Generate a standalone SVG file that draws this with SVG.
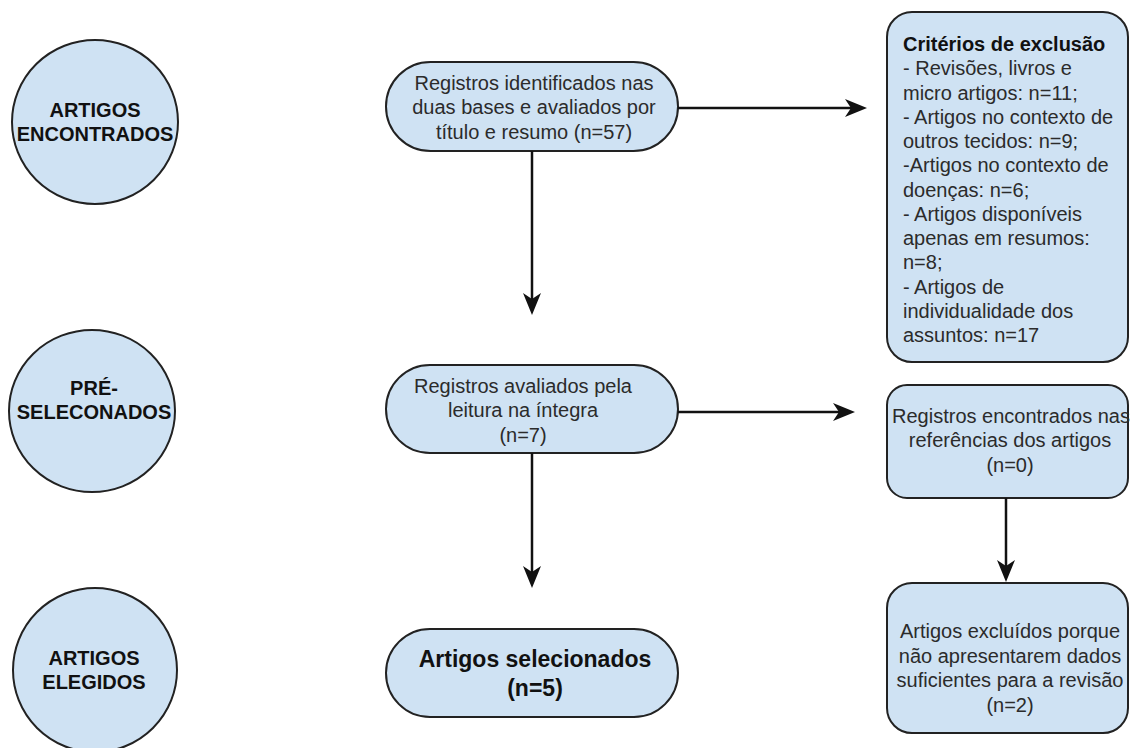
<svg xmlns="http://www.w3.org/2000/svg" width="1137" height="748" viewBox="0 0 1137 748">
  <defs>
    <style>
      .shape { fill: #cfe2f3; stroke: #222; stroke-width: 2; }
      .lbl { font-family: "Liberation Sans", Arial, sans-serif; font-size: 20px; fill: #2b2b2b; }
      .bold { font-family: "Liberation Sans", Arial, sans-serif; font-size: 20px; font-weight: bold; fill: #111; }
      .big { font-family: "Liberation Sans", Arial, sans-serif; font-size: 23px; font-weight: bold; fill: #111; }
      .mid { text-anchor: middle; }
      .edge { fill: none; stroke: #111; stroke-width: 2.5; marker-end: url(#arrow); }
    </style>
    <marker id="arrow" markerUnits="userSpaceOnUse" markerWidth="24" markerHeight="20" refX="12" refY="9" orient="auto">
      <path d="M0,0 L22,9 L0,18 L6,9 Z" fill="#111"/>
    </marker>
  </defs>
  <rect width="1137" height="748" fill="#ffffff"/>

  <g id="stage-encontrados">
    <ellipse class="shape" cx="95" cy="122" rx="83" ry="82"/>
    <text class="bold mid" x="95" y="117">ARTIGOS</text>
    <text class="bold mid" x="95" y="141">ENCONTRADOS</text>
  </g>
  <g id="stage-preselecionados">
    <ellipse class="shape" cx="92" cy="411" rx="83" ry="81"/>
    <text class="bold mid" x="94" y="395">PRÉ-</text>
    <text class="bold mid" x="94" y="419">SELECONADOS</text>
  </g>
  <g id="stage-elegidos">
    <ellipse class="shape" cx="95" cy="670" rx="82" ry="82"/>
    <text class="bold mid" x="94" y="665">ARTIGOS</text>
    <text class="bold mid" x="94" y="689">ELEGIDOS</text>
  </g>

  <g id="node-identificados">
    <rect class="shape" x="386" y="62" width="292" height="89" rx="44.5" ry="44.5"/>
    <text class="lbl mid" x="534" y="89.5">Registros identificados nas</text>
    <text class="lbl mid" x="534" y="114">duas bases e avaliados por</text>
    <text class="lbl mid" x="534" y="138.5">título e resumo (n=57)</text>
  </g>
  <g id="node-avaliados">
    <rect class="shape" x="386" y="365" width="292" height="88" rx="44" ry="44"/>
    <text class="lbl mid" x="523" y="393">Registros avaliados pela</text>
    <text class="lbl mid" x="523" y="417">leitura na íntegra</text>
    <text class="lbl mid" x="523" y="441.5">(n=7)</text>
  </g>
  <g id="node-selecionados">
    <rect class="shape" x="386" y="629" width="292" height="88" rx="44" ry="44"/>
    <text class="big mid" x="535" y="667">Artigos selecionados</text>
    <text class="big mid" x="535" y="696">(n=5)</text>
  </g>

  <g id="node-criterios">
    <rect class="shape" x="887" y="12" width="241" height="350" rx="25" ry="25"/>
    <text class="bold" x="903" y="51">Critérios de exclusão</text>
    <text class="lbl" x="903" y="75.3">- Revisões, livros e</text>
    <text class="lbl" x="903" y="99.5">micro artigos: n=11;</text>
    <text class="lbl" x="903" y="123.8">- Artigos no contexto de</text>
    <text class="lbl" x="903" y="148">outros tecidos: n=9;</text>
    <text class="lbl" x="903" y="172.3">-Artigos no contexto de</text>
    <text class="lbl" x="903" y="196.5">doenças: n=6;</text>
    <text class="lbl" x="903" y="220.8">- Artigos disponíveis</text>
    <text class="lbl" x="903" y="245">apenas em resumos:</text>
    <text class="lbl" x="903" y="269.3">n=8;</text>
    <text class="lbl" x="903" y="293.5">- Artigos de</text>
    <text class="lbl" x="903" y="317.8">individualidade dos</text>
    <text class="lbl" x="903" y="342">assuntos: n=17</text>
  </g>
  <g id="node-referencias">
    <rect class="shape" x="887" y="385" width="241" height="113" rx="20" ry="20"/>
    <text class="lbl mid" x="1011" y="422.5">Registros encontrados nas</text>
    <text class="lbl mid" x="1010" y="447">referências dos artigos</text>
    <text class="lbl mid" x="1010" y="471.5">(n=0)</text>
  </g>
  <g id="node-excluidos">
    <rect class="shape" x="887" y="583" width="241" height="150" rx="25" ry="25"/>
    <text class="lbl mid" x="1010" y="638">Artigos excluídos porque</text>
    <text class="lbl mid" x="1010" y="662.5">não apresentarem dados</text>
    <text class="lbl mid" x="1010" y="687">suficientes para a revisão</text>
    <text class="lbl mid" x="1010" y="711.5">(n=2)</text>
  </g>

  <g id="connectors">
    <path class="edge" d="M678,108 L857,108"/>
    <path class="edge" d="M532,151 L532,305"/>
    <path class="edge" d="M678,412 L845,412"/>
    <path class="edge" d="M532,453 L532,578"/>
    <path class="edge" d="M1006,498 L1006,572"/>
  </g>
</svg>
